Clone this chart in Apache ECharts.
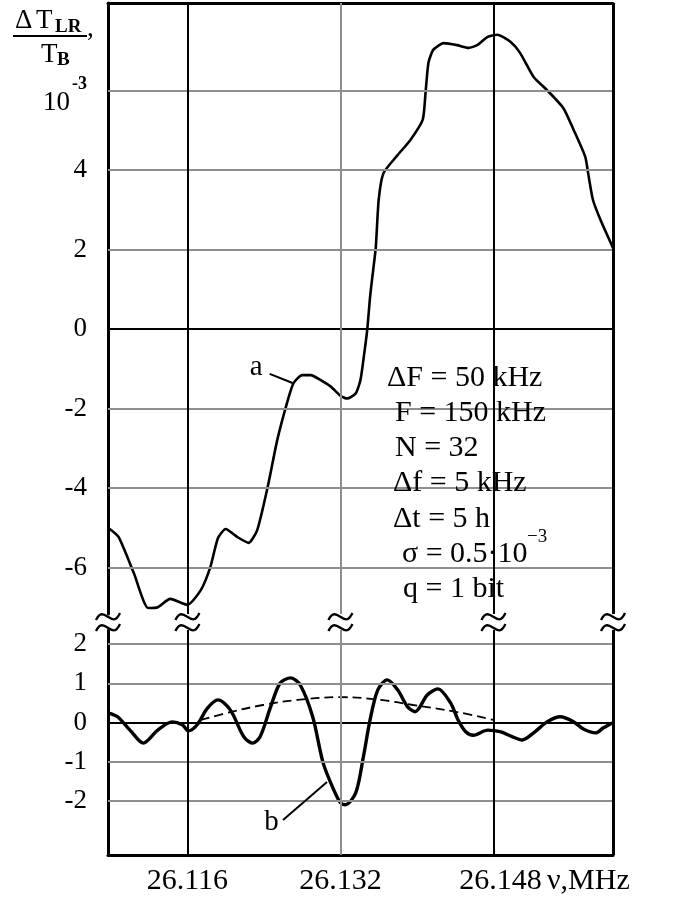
<!DOCTYPE html>
<html>
<head>
<meta charset="utf-8">
<script src="https://cdn.jsdelivr.net/npm/echarts@6/dist/echarts.min.js"></script>
<style>
  html, body { margin: 0; padding: 0; background: #fff; }
  #chart { width: 676px; height: 901px; }
</style>
</head>
<body>
<div id="chart"></div>
<script>
// Frequency axis, MHz
const freqTicks = [26.116, 26.132, 26.148];
const darkFreqLines = [26.116, 26.148];
const freqMin = 26.1077;
const freqMax = 26.1605;

// Ordinate ticks (units of 1e-3)
const upperTicks = [-6, -4, -2, 0, 2, 4, 6];
const lowerTicks = [-2, -1, 0, 1, 2];

// Curve a: ΔT_LR / T_B, 1e-3
const freqA = [26.1077, 26.1088, 26.1104, 26.1119, 26.1129, 26.1142, 26.1160, 26.1174, 26.1184, 26.1192,
  26.1200, 26.1212, 26.1224, 26.1233, 26.1244, 26.1254, 26.1265, 26.1271, 26.1280, 26.1289,
  26.1299, 26.1310, 26.1320, 26.1327, 26.1336, 26.1341, 26.1345, 26.1348, 26.1351, 26.1353,
  26.1357, 26.1360, 26.1365, 26.1380, 26.1393, 26.1406, 26.1409, 26.1412, 26.1417, 26.1428,
  26.1442, 26.1454, 26.1463, 26.1474, 26.1484, 26.1498, 26.1508, 26.1522, 26.1536, 26.1553,
  26.1564, 26.1576, 26.1579, 26.1584, 26.1592, 26.1605];
const valA = [-5.00, -5.23, -6.14, -7.02, -7.00, -6.79, -6.94, -6.57, -5.99, -5.26,
  -5.03, -5.23, -5.38, -5.06, -3.97, -2.79, -1.79, -1.36, -1.16, -1.16,
  -1.28, -1.45, -1.68, -1.75, -1.62, -1.28, -0.60, -0.03, 0.80, 1.23,
  2.06, 3.25, 3.92, 4.38, 4.75, 5.26, 5.94, 6.69, 7.02, 7.19,
  7.14, 7.07, 7.14, 7.35, 7.40, 7.22, 6.94, 6.34, 6.01, 5.56,
  5.00, 4.33, 3.92, 3.25, 2.74, 2.04];

// Curve b
const freqB = [26.1077, 26.1087, 26.1100, 26.1114, 26.1129, 26.1144, 26.1155, 26.1161, 26.1170, 26.1181,
  26.1192, 26.1205, 26.1219, 26.1228, 26.1236, 26.1247, 26.1257, 26.1268, 26.1278, 26.1291,
  26.1302, 26.1313, 26.1320, 26.1325, 26.1336, 26.1344, 26.1351, 26.1359, 26.1369, 26.1380,
  26.1390, 26.1398, 26.1411, 26.1422, 26.1435, 26.1443, 26.1451, 26.1459, 26.1474, 26.1487,
  26.1500, 26.1510, 26.1522, 26.1536, 26.1550, 26.1564, 26.1574, 26.1587, 26.1595, 26.1605];
const valB = [0.25, 0.15, -0.19, -0.52, -0.19, 0.02, -0.06, -0.21, -0.06, 0.37,
  0.58, 0.32, -0.36, -0.52, -0.36, 0.40, 1.01, 1.14, 0.96, 0.15,
  -1.03, -1.71, -2.04, -2.09, -1.79, -0.87, 0.07, 0.83, 1.09, 0.83,
  0.41, 0.28, 0.71, 0.86, 0.51, 0.07, -0.23, -0.32, -0.19, -0.23,
  -0.36, -0.44, -0.26, 0.02, 0.15, 0.02, -0.16, -0.26, -0.13, 0.00];

// Dashed envelope
const freqEnv = [26.1174, 26.1205, 26.1239, 26.1275, 26.1320, 26.1362, 26.1396, 26.1442, 26.1480];
const valEnv = [0.07, 0.27, 0.45, 0.58, 0.65, 0.58, 0.45, 0.27, 0.07];

// Parameter block
const paramLines = ['ΔF = 50 kHz', 'F = 150 kHz', 'N = 32', 'Δf = 5 kHz', 'Δt = 5 h', 'σ = 0.5·10', 'q = 1 bit'];

const SERIF = '"Liberation Serif", "Times New Roman", serif';
const GRAY = '#8e8e8e';

const zip = (xs, ys) => xs.map((x, i) => [x, ys[i]]);

function gridLines(ticks, dark) {
  const h = ticks.map(v => ({ yAxis: v, lineStyle: { color: v === 0 ? '#000' : GRAY, width: 2, type: 'solid' } }));
  const v = freqTicks.map(f => ({ xAxis: f, lineStyle: { color: dark.includes(f) ? '#000' : GRAY, width: 2, type: 'solid' } }));
  const edge = [{ xAxis: freqMax, lineStyle: { color: '#000', width: 3, type: 'solid' } }];
  return h.concat(v, edge);
}

function helperSeries(idx, data, ticks) {
  return {
    type: 'line', xAxisIndex: idx, yAxisIndex: idx, data: data, z: 1, clip: false,
    showSymbol: false, silent: true, lineStyle: { opacity: 0 },
    markLine: { silent: true, precision: 6, symbol: ['none', 'none'], label: { show: false }, animation: false,
      data: gridLines(ticks, darkFreqLines) }
  };
}

const chart = echarts.init(document.getElementById('chart'), null, { renderer: 'canvas' });

const axisLineStyle = { show: true, onZero: false, lineStyle: { color: '#000', width: 3 } };
const lastFreq = freqTicks[freqTicks.length - 1];

chart.setOption({
  animation: false,
  backgroundColor: '#fff',
  textStyle: { fontFamily: SERIF, color: '#000' },
  grid: [
    { left: 108, right: 63, top: 3, height: 611, outerBoundsMode: 'none' },
    { left: 108, right: 63, top: 630, height: 225, outerBoundsMode: 'none' }
  ],
  xAxis: [
    { gridIndex: 0, type: 'value', min: freqMin, max: freqMax, position: 'top',
      axisLine: axisLineStyle, axisTick: { show: false }, axisLabel: { show: false }, splitLine: { show: false } },
    { gridIndex: 1, type: 'value', min: freqMin, max: freqMax, position: 'bottom',
      axisLine: axisLineStyle, axisTick: { show: false }, splitLine: { show: false },
      axisLabel: { customValues: freqTicks, margin: 11, fontSize: 30, color: '#000', fontFamily: SERIF,
        // the last label is set slightly right, next to the unit
        formatter: v => (v === lastFreq ? '{sp| }{n|' + v.toFixed(3) + '}' : v.toFixed(3)),
        rich: {
          sp: { width: 14, fontSize: 30 },
          n: { fontSize: 30, fontFamily: SERIF, color: '#000' }
        } } }
  ],
  yAxis: [
    { gridIndex: 0, type: 'value', min: -7.17, max: 8.2,
      axisLine: axisLineStyle, axisTick: { show: false }, splitLine: { show: false },
      axisLabel: { customValues: upperTicks, margin: 21, fontSize: 27, color: '#000', fontFamily: SERIF,
        // the 6 level is labelled with the 10^-3 scale factor
        formatter: v => (v === 6 ? '{e| }\n{s|-3}\n{m|10}{g| }' : String(v)),
        rich: {
          e: { fontSize: 10, lineHeight: 10 },
          s: { fontSize: 18, fontFamily: SERIF, fontWeight: 'bold', color: '#000', lineHeight: 14 },
          m: { fontSize: 27, fontFamily: SERIF, color: '#000', lineHeight: 22 },
          g: { fontSize: 10, width: 17, lineHeight: 22 }
        } } },
    { gridIndex: 1, type: 'value', min: -3.37, max: 2.36,
      axisLine: axisLineStyle, axisTick: { show: false }, splitLine: { show: false },
      axisLabel: { customValues: lowerTicks, margin: 21, fontSize: 27, color: '#000', fontFamily: SERIF } }
  ],
  series: [
    helperSeries(0, zip(freqA, valA), upperTicks),
    helperSeries(1, zip(freqB, valB), lowerTicks),
    { name: 'a', type: 'line', xAxisIndex: 0, yAxisIndex: 0, z: 3, data: zip(freqA, valA),
      showSymbol: false, smooth: 0.2, lineStyle: { color: '#000', width: 2.6 },
      markPoint: { symbol: 'circle', symbolSize: 0, silent: true, precision: 6,
        label: { show: true, formatter: 'a', fontSize: 29, fontFamily: SERIF, color: '#000', position: 'inside' },
        data: [{ coord: [26.1232, -0.96] }] },
      markLine: { silent: true, precision: 6, symbol: ['none', 'none'], label: { show: false },
        lineStyle: { color: '#000', width: 2, type: 'solid' },
        data: [[{ coord: [26.1246, -1.13] }, { coord: [26.1270, -1.36] }]] } },
    { name: 'b', type: 'line', xAxisIndex: 1, yAxisIndex: 1, z: 3, data: zip(freqB, valB),
      showSymbol: false, smooth: 0.3, lineStyle: { color: '#000', width: 3.4 },
      markPoint: { symbol: 'circle', symbolSize: 0, silent: true, precision: 6,
        label: { show: true, formatter: 'b', fontSize: 29, fontFamily: SERIF, color: '#000', position: 'inside' },
        data: [{ coord: [26.1248, -2.55] }] },
      markLine: { silent: true, precision: 6, symbol: ['none', 'none'], label: { show: false },
        lineStyle: { color: '#000', width: 2, type: 'solid' },
        data: [[{ coord: [26.1260, -2.48] }, { coord: [26.1306, -1.51] }]] } },
    { name: 'envelope', type: 'line', xAxisIndex: 1, yAxisIndex: 1, z: 3, data: zip(freqEnv, valEnv),
      showSymbol: false, smooth: 0.4, lineStyle: { color: '#000', width: 1.8, type: [9, 5] } }
  ]
});

// Annotations: axis title, parameter block, axis-break marks
const g = [];
// Parameter block background
g.push({ type: 'rect', z: 2, silent: true, shape: { x: 375, y: 343, width: 198, height: 271 }, style: { fill: '#fff' } });
const paramPos = [[387, 378], [395, 413], [395, 448], [393, 483], [393, 519], [402, 554], [403, 589]];
paramLines.forEach((t, i) => {
  g.push({ type: 'text', z: 5, silent: true, x: paramPos[i][0], y: paramPos[i][1],
    style: { text: t, font: '30px ' + SERIF, fill: '#000', align: 'left', verticalAlign: 'middle' } });
});
g.push({ type: 'text', z: 5, silent: true, x: 527, y: 537,
  style: { text: '−3', font: '19px ' + SERIF, fill: '#000', align: 'left', verticalAlign: 'middle' } });

// Ordinate title: ΔT_LR / T_B ,
const titleParts = [
  ['Δ', 15, 21, '27px ' + SERIF],
  ['T', 36, 21, '27px ' + SERIF],
  ['LR', 55, 27, 'bold 19px ' + SERIF],
  [',', 87, 29, '27px ' + SERIF],
  ['T', 41, 55, '27px ' + SERIF],
  ['B', 57, 60, 'bold 19px ' + SERIF]
];
titleParts.forEach(([t, x, y, f]) => {
  g.push({ type: 'text', z: 5, silent: true, x: x, y: y,
    style: { text: t, font: f, fill: '#000', align: 'left', verticalAlign: 'middle' } });
});
g.push({ type: 'line', z: 5, silent: true, shape: { x1: 13, y1: 36, x2: 87, y2: 36 }, style: { stroke: '#000', lineWidth: 2 } });

// Abscissa unit
g.push({ type: 'text', z: 5, silent: true, x: 547, y: 881,
  style: { text: 'ν,MHz', font: '30px ' + SERIF, fill: '#000', align: 'left', verticalAlign: 'middle' } });

// Axis-break marks on each vertical line
const breakFreqs = [freqMin].concat(freqTicks, [freqMax]);
breakFreqs.forEach(f => {
  const px = chart.convertToPixel({ xAxisIndex: 1 }, f);
  [617, 628].forEach(py => {
    g.push({ type: 'bezierCurve', z: 6, silent: true,
      shape: { x1: px - 12, y1: py + 3, cpx1: px - 4, cpy1: py - 14, cpx2: px + 4, cpy2: py + 14, x2: px + 12, y2: py - 4 },
      style: { stroke: '#000', lineWidth: 2.3, fill: null } });
  });
});

chart.setOption({ graphic: g });
</script>
</body>
</html>
